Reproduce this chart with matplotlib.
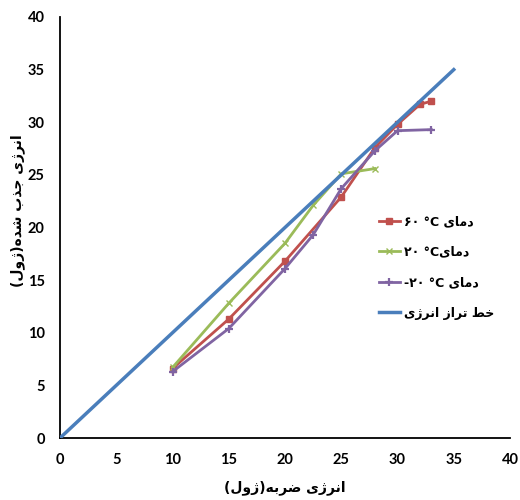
import matplotlib
matplotlib.use("Agg")
import matplotlib.pyplot as plt

# ---------------- data ----------------
x_60 = [10, 15, 20, 25, 28, 30, 32, 33]
y_60 = [6.6, 11.3, 16.8, 22.9, 27.6, 29.8, 31.7, 32.0]
x_20 = [10, 15, 20, 22.5, 25, 28]
y_20 = [6.7, 12.8, 18.5, 22.1, 25.1, 25.6]
x_m20 = [10, 15, 20, 22.5, 25, 28, 30, 33]
y_m20 = [6.3, 10.4, 16.1, 19.3, 23.7, 27.3, 29.2, 29.3]
x_line = [0, 35]
y_line = [0, 35]
ticks = [0, 5, 10, 15, 20, 25, 30, 35, 40]

# ---------------- simple Persian shaping ----------------
FORMS = {  # isolated, final, initial, medial
    'ا': ('\uFE8D', '\uFE8E', None, None),
    'ب': ('\uFE8F', '\uFE90', '\uFE91', '\uFE92'),
    'ت': ('\uFE95', '\uFE96', '\uFE97', '\uFE98'),
    'ج': ('\uFE9D', '\uFE9E', '\uFE9F', '\uFEA0'),
    'خ': ('\uFEA5', '\uFEA6', '\uFEA7', '\uFEA8'),
    'د': ('\uFEA9', '\uFEAA', None, None),
    'ذ': ('\uFEAB', '\uFEAC', None, None),
    'ر': ('\uFEAD', '\uFEAE', None, None),
    'ز': ('\uFEAF', '\uFEB0', None, None),
    'ژ': ('\u0698', '\uFB8B', None, None),
    'ش': ('\uFEB5', '\uFEB6', '\uFEB7', '\uFEB8'),
    'ض': ('\uFEBD', '\uFEBE', '\uFEBF', '\uFEC0'),
    'ط': ('\uFEC1', '\uFEC2', '\uFEC3', '\uFEC4'),
    'ل': ('\uFEDD', '\uFEDE', '\uFEDF', '\uFEE0'),
    'م': ('\uFEE1', '\uFEE2', '\uFEE3', '\uFEE4'),
    'ن': ('\uFEE5', '\uFEE6', '\uFEE7', '\uFEE8'),
    'ه': ('\uFEE9', '\uFEEA', '\uFEEB', '\uFEEC'),
    'و': ('\uFEED', '\uFEEE', None, None),
    'ی': ('\u06CC', '\uFBFD', '\uFBFE', '\uFBFF'),
}
MIRROR = {'(': ')', ')': '('}


def fa(s):
    out = []
    n = len(s)
    for i, ch in enumerate(s):
        if ch not in FORMS:
            out.append(MIRROR.get(ch, ch))
            continue
        f = FORMS[ch]
        prev = s[i - 1] if i > 0 else ''
        nxt = s[i + 1] if i < n - 1 else ''
        pj = prev in FORMS and FORMS[prev][2] is not None
        nj = nxt in FORMS and f[2] is not None
        if pj and nj:
            out.append(f[3])
        elif pj:
            out.append(f[1])
        elif nj:
            out.append(f[2])
        else:
            out.append(f[0])
    return ''.join(reversed(out))


lab_60 = '\u06f6\u06f0 \u00b0C ' + fa('دمای')
lab_20 = '\u06f2\u06f0 \u00b0C' + fa('دمای')
lab_m20 = '-\u06f2\u06f0 \u00b0C ' + fa('دمای')
lab_line = fa('خط تراز انرژی')
xlabel = fa('انرژی ضربه(ژول)')
ylabel = fa('انرژی جذب شده(ژول)')

# ---------------- figure ----------------
fig = plt.figure(figsize=(5.2, 5.0), dpi=100)
ax = fig.add_axes([0.1154, 0.124, 0.8654, 0.842])

ax.plot(x_60, y_60, color='#C0504D', lw=2, marker='s', ms=5, label=lab_60, zorder=3)
ax.plot(x_20, y_20, color='#9BBB59', lw=2, marker='x', ms=5, mew=1, label=lab_20, zorder=3)
ax.plot(x_m20, y_m20, color='#8064A2', lw=2, marker='+', ms=6, mew=1.6, label=lab_m20, zorder=3)
ax.plot(x_line, y_line, color='#4A7EBB', lw=2.5, label=lab_line, zorder=4)

ax.set_xlim(0, 40)
ax.set_ylim(0, 40)
ax.set_xticks(ticks)
ax.set_yticks(ticks)
ax.tick_params(length=0, labelsize=10.5, pad=11)
for lbl in ax.get_xticklabels() + ax.get_yticklabels():
    lbl.set_fontfamily('Lato')
    lbl.set_fontweight('bold')

for side in ('top', 'right'):
    ax.spines[side].set_visible(False)
for side in ('left', 'bottom'):
    ax.spines[side].set_color('black')
    ax.spines[side].set_linewidth(1.3)

ax.set_xlabel(xlabel, fontsize=10, fontweight='bold', family='DejaVu Sans')
ax.set_ylabel(ylabel, fontsize=10, fontweight='bold', family='DejaVu Sans')
ax.xaxis.set_label_coords(0.5, -0.1)
ax.yaxis.set_label_coords(-0.078, 0.54)

leg = ax.legend(loc='upper left', bbox_to_anchor=(0.683, 0.556), frameon=False,
                prop={'family': ['DejaVu Sans'], 'weight': 'bold', 'size': 9},
                handlelength=1.7, handletextpad=0.3, labelspacing=1.4)

fig.savefig('out.png', dpi=100)
